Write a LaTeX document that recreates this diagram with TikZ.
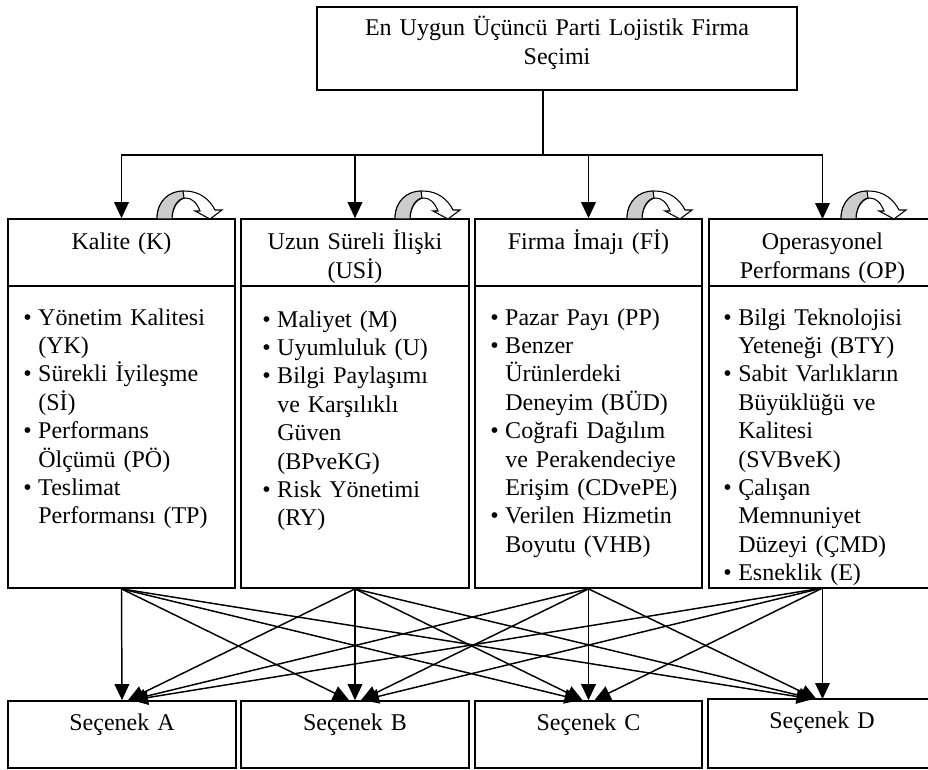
\documentclass[tikz,border=0pt]{standalone}
\usepackage{fontspec}
\setmainfont{Liberation Serif}
\usetikzlibrary{arrows.meta,fit}
\newcommand\firstst{\rule{0pt}{15.4pt}}
\newcommand\bitem[1]{\par\noindent\hangindent=11.25pt\hangafter=1\makebox[11.25pt][l]{\textbullet\firstst}#1}
\tikzset{
  box/.style={draw, line width=1.3pt, inner sep=0pt},
  txt/.style={inner sep=0pt, anchor=north, align=center, font={\fontsize{18}{21.6}\selectfont}, execute at begin node={\firstst}},
  lst/.style={inner sep=0pt, anchor=north west, align=left, text width=150pt, font={\fontsize{18}{21.3}\selectfont}},
  conn/.style={line width=1.1pt},
  arr/.style={line width=1.1pt, -{Triangle[length=12pt,width=11pt]}},
  curvarr/.pic={
    \draw[line width=0.8pt, fill=white] (0,0) .. controls (0,-19) and (13,-28) .. (28,-28)
      .. controls (43,-28) and (53,-19) .. (58,-9) -- (65,-9) -- (53,0) -- (38,-8) -- (43,-8)
      .. controls (40,-16) and (35,-21) .. (29,-21) .. controls (22,-21) and (15,-12) .. (15,0) -- cycle;
    \draw[line width=0.8pt, fill=black!20] (0,0) .. controls (0,-19) and (13,-28) .. (26,-28)
      -- (27,-21) .. controls (21,-20) and (15,-12) .. (15,0) -- cycle;
  }
}
\begin{document}
\begin{tikzpicture}[x=0.75pt, y=-0.75pt]
\useasboundingbox (0,0) rectangle (928,769);
\fill[white] (0,0) rectangle (928,769);

% top box
\node[box, fit={(317,7) (797,90)}] (top) {};
\node[txt, text width=330pt] (toptext) at (557,14.5) {En Uygun Üçüncü Parti Lojistik Firma\\Seçimi};

% header boxes
\node[box, fit={(8,219) (235,286)}] (kh) {};
\node[box, fit={(241,219) (469,286)}] (uh) {};
\node[box, fit={(475,219) (702,286)}] (fh) {};
\node[box, fit={(709,219) (945,286)}] (oh) {};
\node[txt, text width=165pt] (kht) at (121.5,228.5) {Kalite (K)};
\node[txt, text width=165pt] (uht) at (355,228.5) {Uzun Süreli İlişki\\(USİ)};
\node[txt, text width=165pt] (fht) at (588.5,228.5) {Firma İmajı (Fİ)};
\node[txt, text width=165pt] (oht) at (822.5,228.5) {Operasyonel\\Performans (OP)};

% list boxes
\node[box, fit={(8,286) (235,588)}] (kl) {};
\node[box, fit={(241,286) (469,588)}] (ul) {};
\node[box, fit={(475,286) (702,588)}] (fl) {};
\node[box, fit={(709,286) (945,588)}] (ol) {};

\node[lst] (klt) at (23,296.5) {%
\bitem{Yönetim Kalitesi\newline(YK)}
\bitem{Sürekli İyileşme\newline(Sİ)}
\bitem{Performans\newline Ölçümü (PÖ)}
\bitem{Teslimat\newline Performansı (TP)}\par};
\node[lst] (ult) at (262,298.5) {%
\bitem{Maliyet (M)}
\bitem{Uyumluluk (U)}
\bitem{Bilgi Paylaşımı\newline ve Karşılıklı\newline Güven\newline(BPveKG)}
\bitem{Risk Yönetimi\newline(RY)}\par};
\node[lst] (flt) at (490,296.5) {%
\bitem{Pazar Payı (PP)}
\bitem{Benzer\newline Ürünlerdeki\newline Deneyim (BÜD)}
\bitem{Coğrafi Dağılım\newline ve Perakendeciye\newline Erişim (CDvePE)}
\bitem{Verilen Hizmetin\newline Boyutu (VHB)}\par};
\node[lst] (olt) at (723,296.5) {%
\bitem{Bilgi Teknolojisi\newline Yeteneği (BTY)}
\bitem{Sabit Varlıkların\newline Büyüklüğü ve\newline Kalitesi\newline(SVBveK)}
\bitem{Çalışan\newline Memnuniyet\newline Düzeyi (ÇMD)}
\bitem{Esneklik (E)}\par};

% option boxes
\node[box, fit={(8,701) (236,768)}] (sa) {};
\node[box, fit={(241,701) (469,768)}] (sb) {};
\node[box, fit={(475,701) (702,768)}] (sc) {};
\node[box, fit={(708,699) (945,768)}] (sd) {};
\node[txt, text width=165pt] (sat) at (122,709.5) {Seçenek A};
\node[txt, text width=165pt] (sbt) at (355,709.5) {Seçenek B};
\node[txt, text width=165pt] (sct) at (588.5,709.5) {Seçenek C};
\node[txt, text width=165pt] (sdt) at (822,707.5) {Seçenek D};

% top connectors
\coordinate (tj) at (543,155);
\coordinate (ohn) at (822.5,219);
\draw[conn] (top.south -| tj) -- (tj);
\draw[arr] (tj) -| (kh.north);
\draw[arr] (tj) -| (uh.north);
\draw[arr] (tj) -| (fh.north);
\draw[arr] (tj) -| (ohn);

% curved arrows
\pic at (157,219) {curvarr};
\pic at (395,219) {curvarr};
\pic at (627,219) {curvarr};
\pic at (841,219) {curvarr};

% bottom connectors
\coordinate (olb) at (822.5,588);
\coordinate (sdn) at (822.5,699);
\foreach \s/\i in {kl.south/0,ul.south/1,fl.south/2,olb/3}{
  \foreach \t/\j in {sa.north/0,sb.north/1,sc.north/2,sdn/3}{
    \pgfmathsetmacro\off{(\i==\j) ? 0 : sign(\i-\j)*(3+1.5*abs(\i-\j))}
    \draw[arr] (\s) -- ([xshift=\off pt]\t);
  }
}
\end{tikzpicture}
\end{document}
